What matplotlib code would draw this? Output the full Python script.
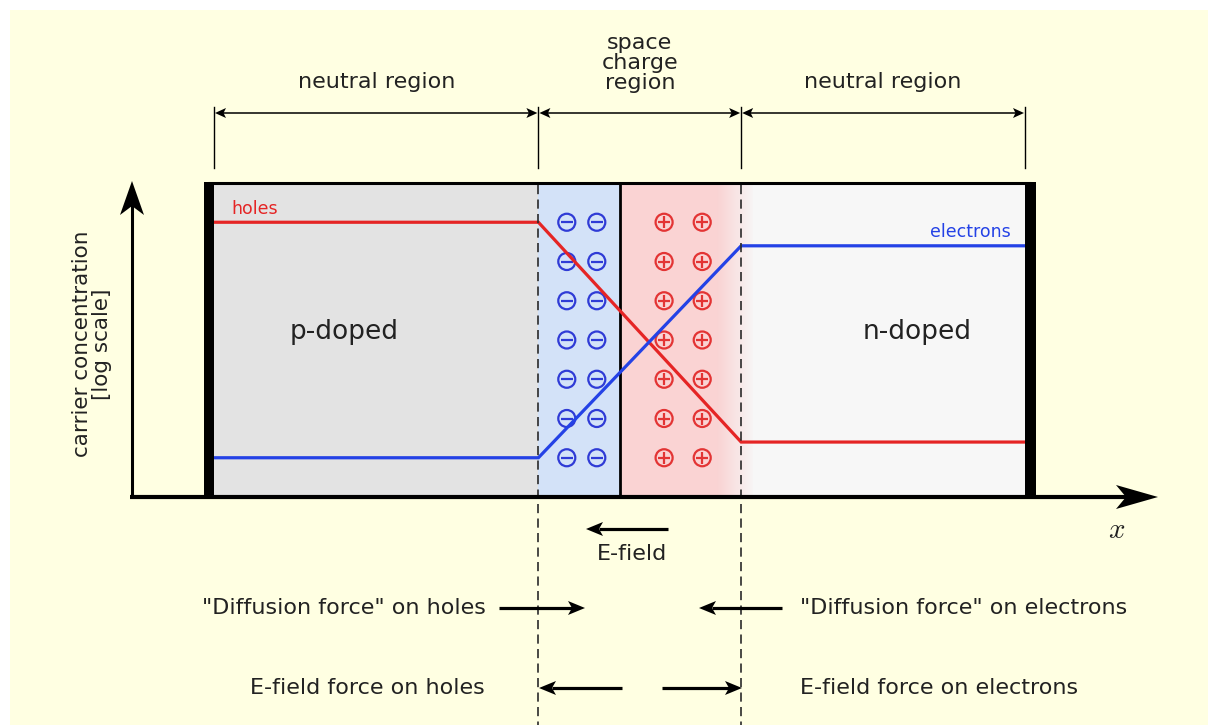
import numpy as np
import matplotlib
matplotlib.use("Agg")
import matplotlib.pyplot as plt
from matplotlib.patches import Rectangle, Polygon
from matplotlib.transforms import blended_transform_factory

# ---------------- data (device position x in a.u., log carrier concentration y in a.u.)
region_bounds = [0.0, 4.0, 5.0, 6.5, 10.0]     # p-edge, depletion start, junction, depletion end, n-edge
curve_x = [0.0, 4.0, 6.5, 10.0]
holes = [8.75, 8.75, 1.75, 1.75]
electrons = [1.25, 1.25, 8.0, 8.0]
ion_rows = [1.25, 2.5, 3.75, 5.0, 6.25, 7.5, 8.75]
acceptor_cols = [4.35, 4.72]   # negative ions (p side of depletion region)
donor_cols = [5.55, 6.02]      # positive ions (n side of depletion region)
region_labels = ["neutral region", "space\ncharge\nregion", "neutral region"]

# ---------------- colours
BG = "#FFFFE2"
P_GRAY = "#E3E3E3"
N_GRAY = "#F7F7F7"
BLUE_FILL = "#D3E2F8"
PINK_FILL = "#FAD3D3"
RED = "#E52525"
BLUE = "#2442E6"
ION_BLUE = "#2F3BD6"
ION_RED = "#E33434"
TXT = "#222222"

W, H = 1208, 725
fig = plt.figure(figsize=(W / 100, H / 100), dpi=100)
fig.patch.set_facecolor("white")

bg = fig.add_axes([0, 0, 1, 1], zorder=0)
bg.set_xlim(0, W); bg.set_ylim(H, 0); bg.axis("off")
bg.add_patch(Rectangle((10, 10), W - 10, H - 10, facecolor=BG, edgecolor="none"))

# box axes (data coordinates)
BL, BR, BT, BB = 214, 1025, 183, 497
ax = fig.add_axes([BL / W, (H - BB) / H, (BR - BL) / W, (BB - BT) / H], zorder=1)
ax.set_xlim(0, 10); ax.set_ylim(0, 10); ax.axis("off")
ax.patch.set_alpha(0)

p0, d0, j0, d1, n1 = region_bounds
ax.axvspan(p0, d0, color=P_GRAY, lw=0)
ax.axvspan(d0, j0, color=BLUE_FILL, lw=0)
ax.axvspan(j0, 6.2, color=PINK_FILL, lw=0)
ax.axvspan(6.65, n1, color=N_GRAY, lw=0)
c1 = np.array(matplotlib.colors.to_rgb(PINK_FILL))
c2 = np.array(matplotlib.colors.to_rgb(N_GRAY))
t = np.linspace(0, 1, 64)
grad = (c1[None, :] * (1 - t[:, None]) + c2[None, :] * t[:, None])[None, :, :]
ax.imshow(grad, extent=[6.2, 6.67, 0, 10], aspect="auto", interpolation="bilinear")
ax.set_xlim(0, 10); ax.set_ylim(0, 10)

# ions
for cols, col, sign in [(acceptor_cols, ION_BLUE, "_"), (donor_cols, ION_RED, "+")]:
    xs = [c for c in cols for r in ion_rows]
    ys = [r for c in cols for r in ion_rows]
    ax.scatter(xs, ys, s=150, marker="o", facecolors="none", edgecolors=col, linewidths=1.6, zorder=3)
    ax.scatter(xs, ys, s=70, marker=sign, color=col, linewidths=1.6, zorder=3)

# junction line
ax.plot([j0, j0], [0, 10], color="k", lw=2.0, zorder=4)

# carrier curves
ax.plot(curve_x, holes, color=RED, lw=2.3, zorder=5, solid_joinstyle="miter")
ax.plot(curve_x, electrons, color=BLUE, lw=2.3, zorder=5, solid_joinstyle="miter")
ax.text(0.22, holes[0] + 0.42, "holes", color=RED, fontsize=12.5, ha="left", va="center")
ax.text(9.82, electrons[-1] + 0.45, "electrons", color=BLUE, fontsize=12.5, ha="right", va="center")
ax.text(1.6, 5.25, "p-doped", color=TXT, fontsize=19, ha="center", va="center")
ax.text(8.67, 5.25, "n-doped", color=TXT, fontsize=19, ha="center", va="center")

# ---------------- overlay (pixel coordinates for annotations)
ov = fig.add_axes([0, 0, 1, 1], zorder=2)
ov.set_xlim(0, W); ov.set_ylim(H, 0); ov.axis("off")
ov.patch.set_alpha(0)
bt = blended_transform_factory(ax.transData, ov.transData)


def stealth(a, tip, d, length, hw, notch, color="k"):
    tx, ty = tip
    dx, dy = d
    px, py = -dy, dx
    bx, by = tx - dx * length, ty - dy * length
    pts = [(tx, ty), (bx + px * hw, by + py * hw),
           (tx - dx * (length - notch), ty - dy * (length - notch)),
           (bx - px * hw, by - py * hw)]
    a.add_patch(Polygon(pts, closed=True, fc=color, ec="none", zorder=6))


def harrow(x_tail, x_tip, y, lw=2.3, length=17, hw=7, notch=4):
    d = 1 if x_tip > x_tail else -1
    ov.plot([x_tail, x_tip - d * (length - notch)], [y, y], color="k", lw=lw,
            solid_capstyle="butt", zorder=6)
    stealth(ov, (x_tip, y), (d, 0), length, hw, notch)


# dashed depletion-edge lines
for xb in (d0, d1):
    ov.plot([xb, xb], [BT + 2, H], transform=bt, color="#2a2a2a", lw=1.2,
            dashes=(5.5, 3.2), zorder=5)

# region boundary ticks and dimension arrows on top
px = [ax.transData.transform((b, 0))[0] for b in (p0, d0, d1, n1)]
px = [ov.transData.inverted().transform((p, 0))[0] for p in px]
for p in px:
    ov.plot([p, p], [107, 168], color="k", lw=1.0, zorder=6)
for (a_, b_), lab in zip(zip(px[:-1], px[1:]), region_labels):
    ov.plot([a_ + 6, b_ - 6], [113, 113], color="k", lw=1.1, zorder=6)
    stealth(ov, (a_ + 1, 113), (-1, 0), 11, 5, 2.5)
    stealth(ov, (b_ - 1, 113), (1, 0), 11, 5, 2.5)
    yy = 82 if "\n" not in lab else 63
    ov.text((a_ + b_) / 2, yy, lab, ha="center", va="center", fontsize=16,
            color=TXT, linespacing=0.98)

# box frame
ov.plot([BL - 6, BR + 6], [BT, BT], color="k", lw=2.2, zorder=6, solid_capstyle="butt")
ov.add_patch(Rectangle((204, BT - 1), 10, BB - BT + 1, fc="k", ec="none", zorder=6))
ov.add_patch(Rectangle((1025, BT - 1), 11, BB - BT + 1, fc="k", ec="none", zorder=6))

# coordinate axes
ov.plot([132, 132], [BB + 1, 200], color="k", lw=2.2, zorder=6, solid_capstyle="butt")
stealth(ov, (132, 181), (0, -1), 34, 12, 9)
ov.plot([130, 1140], [BB, BB], color="k", lw=3.0, zorder=6, solid_capstyle="butt")
stealth(ov, (1158, BB), (1, 0), 42, 12, 10)
ov.text(1117, 530, "$x$", fontsize=21, ha="center", va="center", color=TXT,
        math_fontfamily="cm")
ov.text(92, 344, "carrier concentration\n[log scale]", rotation=90, ha="center",
        va="center", fontsize=15.5, color=TXT, linespacing=0.95)

# E-field and forces
harrow(668, 586, 529)
ov.text(632, 554, "E-field", ha="center", va="center", fontsize=16, color=TXT)

ov.text(486, 608, "\"Diffusion force\" on holes", ha="right", va="center", fontsize=16, color=TXT)
harrow(499, 585, 608)
harrow(782, 699, 608)
ov.text(800, 608, "\"Diffusion force\" on electrons", ha="left", va="center", fontsize=16, color=TXT)

ov.text(485, 688, "E-field force on holes", ha="right", va="center", fontsize=16, color=TXT)
harrow(622, 539, 688)
harrow(662, 742, 688)
ov.text(800, 688, "E-field force on electrons", ha="left", va="center", fontsize=16, color=TXT)

fig.savefig("out.png", dpi=100, facecolor=fig.get_facecolor())
